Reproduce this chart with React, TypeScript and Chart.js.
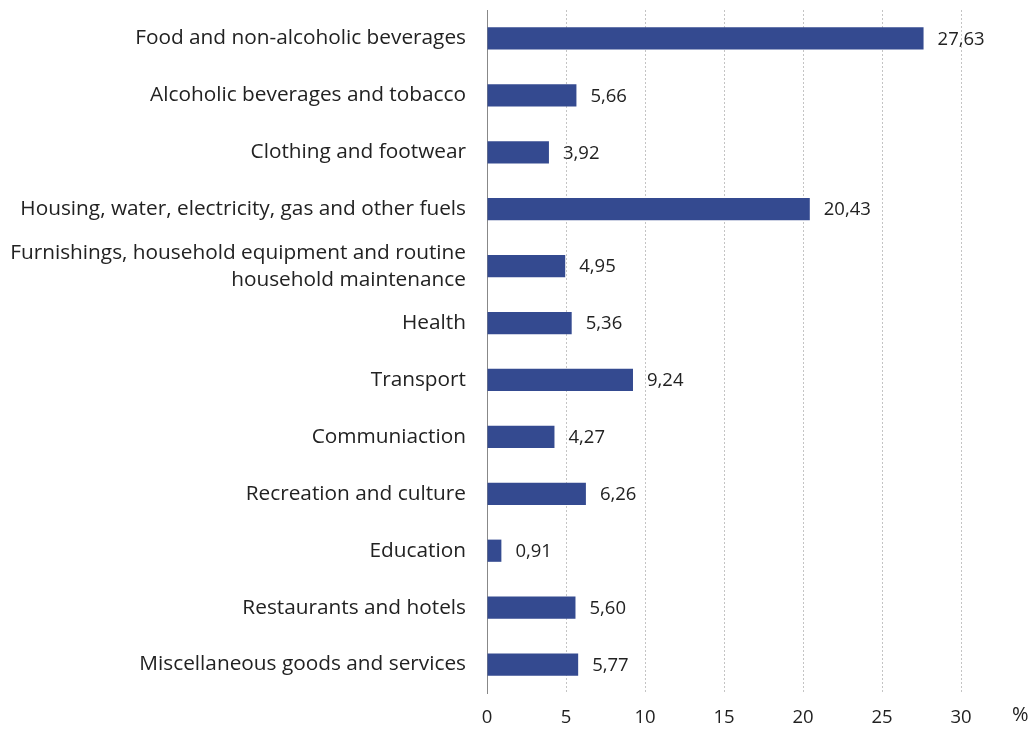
import React, { useEffect, useRef } from "react";
import { Chart, registerables } from "chart.js";

Chart.register(...registerables);

const categories: (string | string[])[] = [
  "Food and non-alcoholic beverages",
  "Alcoholic beverages and tobacco",
  "Clothing and footwear",
  "Housing, water, electricity, gas and other fuels",
  ["Furnishings, household equipment and routine", "household maintenance"],
  "Health",
  "Transport",
  "Communiaction",
  "Recreation and culture",
  "Education",
  "Restaurants and hotels",
  "Miscellaneous goods and services",
];

const values: number[] = [27.63, 5.66, 3.92, 20.43, 4.95, 5.36, 9.24, 4.27, 6.26, 0.91, 5.6, 5.77];

const xTicks: number[] = [0, 5, 10, 15, 20, 25, 30];
const unitLabel = "%";

const FONT = "'Open Sans', 'Noto Sans', sans-serif";

export default function App() {
  const ref = useRef<HTMLCanvasElement | null>(null);

  useEffect(() => {
    if (!ref.current) return;
    const labelPlugin = {
      id: "valueLabels",
      afterDatasetsDraw(chart: any) {
        const ctx = chart.ctx;
        const meta = chart.getDatasetMeta(0);
        ctx.save();
        ctx.font = `18.5px ${FONT}`;
        ctx.fillStyle = "#222";
        ctx.textAlign = "left";
        ctx.textBaseline = "middle";
        meta.data.forEach((el: any, i: number) => {
          const txt = values[i].toFixed(2).replace(".", ",");
          ctx.fillText(txt, el.x + 14, el.y + 1);
        });
        const xs = chart.scales.x;
        ctx.font = `20px ${FONT}`;
        ctx.fillText(unitLabel, xs.right + 51, xs.top + 22);
        ctx.restore();
      },
    };

    const chart = new Chart(ref.current, {
      type: "bar",
      data: {
        labels: categories,
        datasets: [
          {
            data: values,
            backgroundColor: "#344a90",
            borderWidth: 0,
            categoryPercentage: 1,
            barPercentage: 0.39,
          },
        ],
      },
      options: {
        indexAxis: "y",
        animation: false,
        responsive: true,
        maintainAspectRatio: false,
        layout: { padding: { left: 0, right: 74, top: 10, bottom: 0 } },
        plugins: {
          legend: { display: false },
          tooltip: { enabled: false },
        },
        scales: {
          x: {
            min: 0,
            max: 30,
            afterBuildTicks: (scale: any) => {
              scale.ticks = xTicks.map((v) => ({ value: v }));
            },
            afterFit: (scale: any) => {
              scale.height = 40;
            },
            grid: {
              color: (c: any) => (c.tick && c.tick.value === 0 ? "rgba(0,0,0,0)" : "#c4c4c4"),
              lineWidth: 1,
              tickLength: 0,
              drawTicks: false,
            },
            border: { display: false, dash: [2, 2] },
            ticks: {
              color: "#222",
              font: { family: FONT, size: 18.5 },
              padding: 14,
            },
          },
          y: {
            afterFit: (scale: any) => {
              scale.width = 487;
              scale.paddingTop = 0;
              scale.paddingBottom = 0;
            },
            grid: { display: false, drawTicks: false },
            border: { display: true, color: "#888", width: 1 },
            ticks: {
              autoSkip: false,
              color: "#222",
              font: { family: FONT, size: 20.8, lineHeight: 1.3 },
              padding: 21,
            },
          },
        },
      },
      plugins: [labelPlugin],
    } as any);
    return () => chart.destroy();
  }, []);

  return (
    <div style={{ position: "absolute", left: 0, top: 0, width: 1035, height: 733, background: "#fff" }}>
      <canvas ref={ref} />
    </div>
  );
}
